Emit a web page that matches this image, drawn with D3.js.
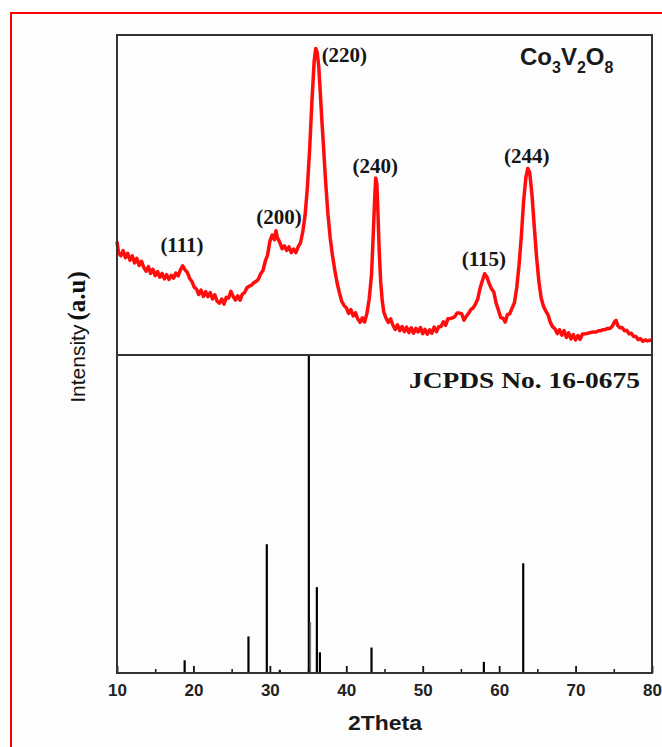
<!DOCTYPE html>
<html>
<head>
<meta charset="utf-8">
<script src="https://cdn.jsdelivr.net/npm/d3@7"></script>
<style>
  body { margin: 0; background: #fff; }
  svg { display: block; }
</style>
</head>
<body>
<svg width="662" height="747"></svg>
<script>
// measured XRD pattern of Co3V2O8 (2theta, intensity in a.u., 0-100)
let twoTheta = [10.0,10.2,10.5,10.8,11.1,11.4,11.7,12.0,12.3,12.6,12.9,13.2,13.5,13.8,14.1,14.4,14.7,15.0,15.3,15.6,15.9,16.2,16.5,16.8,17.1,17.4,17.7,18.0,18.3,18.6,18.9,19.2,19.5,19.8,20.1,20.4,20.7,21.0,21.3,21.6,21.9,22.2,22.5,22.8,23.1,23.4,23.7,24.0,24.3,24.6,24.9,25.2,25.5,25.8,26.1,26.4,26.7,27.0,27.3,27.6,27.9,28.2,28.5,28.8,29.1,29.4,29.7,30.0,30.3,30.6,30.8,31.0,31.3,31.6,31.9,32.2,32.5,32.8,33.1,33.4,33.7,34.0,34.3,34.6,34.9,35.2,35.5,35.8,36.0,36.2,36.4,36.6,36.8,37.0,37.3,37.6,37.9,38.2,38.5,38.8,39.1,39.4,39.7,40.0,40.3,40.6,40.9,41.2,41.5,41.8,42.1,42.4,42.7,43.0,43.3,43.5,43.7,43.85,44.0,44.15,44.3,44.5,44.7,44.9,45.2,45.5,45.8,46.1,46.4,46.7,47.0,47.3,47.6,47.9,48.2,48.5,48.8,49.1,49.4,49.7,50.0,50.3,50.6,50.9,51.2,51.5,51.8,52.1,52.4,52.7,53.0,53.3,53.6,53.9,54.2,54.5,54.8,55.1,55.4,55.7,56.0,56.3,56.6,56.9,57.2,57.5,57.8,58.1,58.4,58.7,59.0,59.3,59.6,59.9,60.2,60.5,60.8,61.1,61.4,61.7,62.0,62.3,62.6,62.9,63.2,63.5,63.75,64.0,64.3,64.6,64.9,65.2,65.5,65.8,66.1,66.4,66.7,67.0,67.3,67.6,67.9,68.2,68.5,68.8,69.1,69.4,69.7,70.0,70.3,70.6,70.9,71.2,71.5,71.8,72.1,72.4,72.7,73.0,73.3,73.6,73.9,74.2,74.5,74.8,75.1,75.3,75.5,75.8,76.1,76.4,76.7,77.0,77.3,77.6,77.9,78.2,78.5,78.8,79.1,79.4,79.7,80.0];
let intensity = [35.5,32.0,31.0,32.6,30.4,31.8,29.6,31.0,28.8,30.2,28.0,29.3,27.4,26.2,27.6,25.5,26.8,24.8,26.1,24.3,25.5,23.8,25.1,23.6,24.9,24.0,25.6,24.7,26.6,27.9,26.6,25.8,24.0,23.0,21.2,20.6,18.9,20.3,18.3,19.8,18.2,19.5,17.5,18.8,16.8,16.2,17.5,15.9,18.0,17.8,19.9,18.3,17.2,18.5,17.1,19.0,19.5,21.0,21.5,21.8,22.6,23.0,23.7,25.4,26.4,29.3,31.2,35.5,37.5,36.0,38.8,36.6,35.2,33.2,34.1,32.7,33.8,32.0,33.1,32.0,33.8,35.0,38.4,43.5,52.0,64.0,79.0,92.0,95.8,94.5,90.0,82.0,73.5,66.0,54.0,44.0,36.5,31.0,26.5,22.5,19.5,16.8,15.5,14.8,13.0,14.2,12.2,13.2,11.3,10.2,11.6,10.3,13.0,17.5,25.0,36.0,48.0,55.3,53.5,44.0,33.0,23.0,17.0,13.5,11.5,10.2,11.3,9.3,8.0,9.4,7.6,8.9,7.3,8.7,7.0,8.5,6.8,8.3,7.2,8.6,6.7,8.0,6.5,7.9,6.8,8.7,7.3,8.8,8.9,10.4,9.3,11.3,11.4,11.6,12.0,13.1,13.1,12.9,10.9,12.1,13.0,14.2,14.7,15.9,17.5,20.8,23.2,25.4,24.4,22.3,20.7,19.7,16.2,14.1,11.7,11.5,10.3,12.7,12.9,14.7,16.3,21.0,28.0,37.0,48.0,55.5,58.3,57.0,50.0,40.0,30.5,23.0,17.8,15.2,13.8,12.5,10.2,8.8,8.2,6.7,7.9,6.2,7.6,5.5,6.9,5.0,6.4,4.7,6.1,4.9,6.6,6.6,6.7,6.9,7.1,7.2,7.2,7.6,7.6,7.9,8.0,8.3,8.3,9.0,10.4,10.8,9.3,8.5,8.6,7.6,7.7,6.6,6.8,5.8,5.8,4.8,5.1,4.3,4.7,4.4,4.6,4.6];

// reflection labels
let hklText = ["(111)","(200)","(220)","(240)","(115)","(244)"];
let hklX = [18.5, 31.2, 39.75, 43.8, 58.0, 63.6];
let hklY = [32.2, 40.9, 91.6, 56.9, 27.8, 60.0];

// JCPDS 16-0675 reference lines (relative intensity %)
let refPos = [18.85, 27.2, 29.6, 31.3, 35.1, 35.3, 36.15, 36.55, 43.3, 58.0, 63.15];
let refInt = [4, 11.5, 40.5, 1, 100, 16, 27, 6.5, 8, 3.5, 34.5];
let refGray = [false, false, false, false, false, true, false, false, false, false, false];

let majorTicks = [10,20,30,40,50,60,70,80];
let minorTicks = [15,25,35,45,55,65,75];

let svg = d3.select("svg");

let plotLeft = 117, plotRight = 652, plotTop = 35, plotMid = 355, plotBottom = 673;

let x = d3.scaleLinear().domain([10, 80]).range([plotLeft, plotRight]);
let yTop = d3.scaleLinear().domain([0, 100]).range([plotMid, plotTop]);
let yBot = d3.scaleLinear().domain([0, 100]).range([plotBottom, plotMid]);

// outer red frame
svg.append("rect")
  .attr("x", 11).attr("y", 13)
  .attr("width", 700).attr("height", 800)
  .attr("fill", "#fdfdfd")
  .attr("stroke", "#ff0000")
  .attr("stroke-width", 2);

// xrd curve
let line = d3.line()
  .x((d, i) => x(twoTheta[i]))
  .y(d => yTop(d));

svg.append("path")
  .datum(intensity)
  .attr("d", line)
  .attr("fill", "none")
  .attr("stroke", "#ff0d0d")
  .attr("stroke-width", 3.5)
  .attr("stroke-linejoin", "round");

// reference sticks
svg.selectAll(".stick")
  .data(refPos)
  .enter().append("line")
  .attr("class", "stick")
  .attr("x1", d => x(d)).attr("x2", d => x(d))
  .attr("y1", yBot(0))
  .attr("y2", (d, i) => yBot(refInt[i]))
  .attr("stroke", (d, i) => refGray[i] ? "#777" : "#000")
  .attr("stroke-width", (d, i) => refGray[i] ? 1.5 : 2.2);

// axes
let xAxis = svg.append("g")
  .attr("transform", "translate(0," + plotBottom + ")")
  .call(d3.axisBottom(x).tickValues(majorTicks).tickSize(-7).tickPadding(11).tickFormat(d3.format("d")));
xAxis.select(".domain").remove();
xAxis.selectAll("line").attr("stroke", "#111").attr("stroke-width", 1.8);
xAxis.selectAll("text")
  .attr("fill", "#222")
  .style("font-family", "'Liberation Sans', Arial, sans-serif")
  .style("font-weight", "bold")
  .style("font-size", "17px");

let xMinor = svg.append("g")
  .attr("transform", "translate(0," + plotBottom + ")")
  .call(d3.axisBottom(x).tickValues(minorTicks).tickSize(-4).tickFormat(""));
xMinor.select(".domain").remove();
xMinor.selectAll("line").attr("stroke", "#111").attr("stroke-width", 1.5);

// frame and divider
svg.append("rect")
  .attr("x", plotLeft).attr("y", plotTop)
  .attr("width", plotRight - plotLeft).attr("height", plotBottom - plotTop)
  .attr("fill", "none")
  .attr("stroke", "#333")
  .attr("stroke-width", 2);
svg.append("line")
  .attr("x1", plotLeft).attr("x2", plotRight)
  .attr("y1", plotMid).attr("y2", plotMid)
  .attr("stroke", "#333")
  .attr("stroke-width", 2);

// hkl labels
svg.selectAll(".hkl")
  .data(hklText)
  .enter().append("text")
  .attr("class", "hkl")
  .attr("x", (d, i) => x(hklX[i]))
  .attr("y", (d, i) => yTop(hklY[i]))
  .attr("text-anchor", "middle")
  .attr("fill", "#151515")
  .style("font-family", "'Liberation Serif', 'Times New Roman', serif")
  .style("font-weight", "bold")
  .style("font-size", "21px")
  .text(d => d);

// formula
let formula = svg.append("text")
  .attr("x", 520).attr("y", 65)
  .attr("fill", "#1a1a1a")
  .style("font-family", "'Liberation Sans', Arial, sans-serif")
  .style("font-weight", "bold")
  .style("font-size", "24px");
[["Co", 0], ["3", 1], ["V", 0], ["2", 1], ["O", 0], ["8", 1]].forEach(p => {
  formula.append("tspan")
    .attr("y", p[1] ? 73 : 65)
    .style("font-size", p[1] ? "16px" : null)
    .text(p[0]);
});

svg.append("text")
  .attr("x", 640).attr("y", 388)
  .attr("text-anchor", "end")
  .attr("fill", "#151515")
  .attr("textLength", 231)
  .attr("lengthAdjust", "spacingAndGlyphs")
  .style("font-family", "'Liberation Serif', 'Times New Roman', serif")
  .style("font-weight", "bold")
  .style("font-size", "23px")
  .text("JCPDS No. 16-0675");

// axis titles
svg.append("text")
  .attr("x", 385).attr("y", 730)
  .attr("text-anchor", "middle")
  .attr("fill", "#1a1a1a")
  .attr("textLength", 74)
  .attr("lengthAdjust", "spacingAndGlyphs")
  .style("font-family", "'Liberation Sans', Arial, sans-serif")
  .style("font-weight", "bold")
  .style("font-size", "21px")
  .text("2Theta");

let yLabel = svg.append("text")
  .attr("transform", "translate(85,337) rotate(-90)")
  .attr("text-anchor", "middle")
  .attr("fill", "#111")
  .style("font-family", "'Liberation Sans', Arial, sans-serif")
  .style("font-size", "21px");
yLabel.append("tspan").text("Intensity");
yLabel.append("tspan")
  .attr("dx", 4)
  .style("font-family", "'Liberation Serif', 'Times New Roman', serif")
  .style("font-weight", "bold")
  .style("font-size", "25px")
  .text("(a.u)");
</script>
</body>
</html>
